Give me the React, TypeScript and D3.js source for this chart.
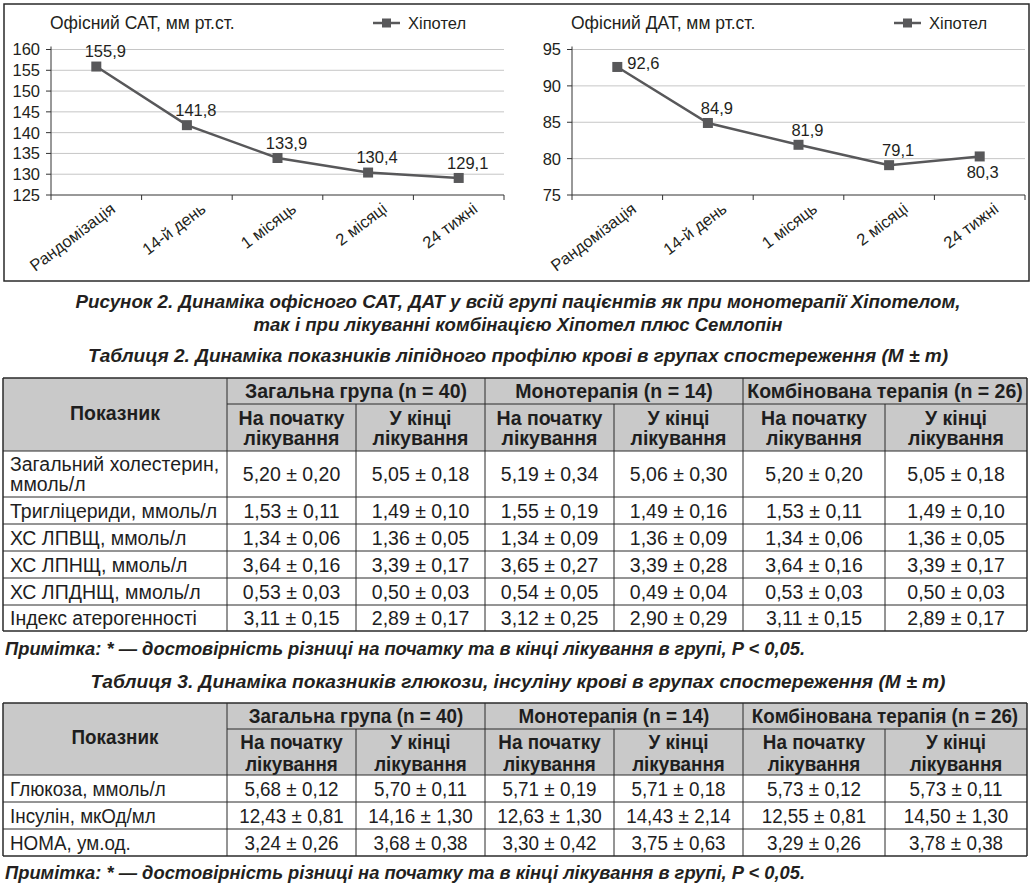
import * as d3 from 'd3'

// chart data
const timePoints = ['Рандомізація', '14-й день', '1 місяць', '2 місяці', '24 тижні']
const satValues = [155.9, 141.8, 133.9, 130.4, 129.1]
const datValues = [92.6, 84.9, 81.9, 79.1, 80.3]
const satTicks = [125, 130, 135, 140, 145, 150, 155, 160]
const datTicks = [75, 80, 85, 90, 95]
const seriesName = 'Хіпотел'
const satTitle = 'Офісний САТ, мм рт.ст.'
const datTitle = 'Офісний ДАТ, мм рт.ст.'

// table data
const groupNames = ['Загальна група (n = 40)', 'Монотерапія (n = 14)', 'Комбінована терапія (n = 26)']
const subColumns = [
  ['На початку', 'лікування'],
  ['У кінці', 'лікування'],
]
const indicatorHead = 'Показник'
const lipidLabels = [
  ['Загальний холестерин,', 'ммоль/л'],
  ['Тригліцериди, ммоль/л'],
  ['ХС ЛПВЩ, ммоль/л'],
  ['ХС ЛПНЩ, ммоль/л'],
  ['ХС ЛПДНЩ, ммоль/л'],
  ['Індекс атерогенності'],
]
const lipidMeans = [
  [5.2, 5.05, 5.19, 5.06, 5.2, 5.05],
  [1.53, 1.49, 1.55, 1.49, 1.53, 1.49],
  [1.34, 1.36, 1.34, 1.36, 1.34, 1.36],
  [3.64, 3.39, 3.65, 3.39, 3.64, 3.39],
  [0.53, 0.5, 0.54, 0.49, 0.53, 0.5],
  [3.11, 2.89, 3.12, 2.9, 3.11, 2.89],
]
const lipidErrors = [
  [0.2, 0.18, 0.34, 0.3, 0.2, 0.18],
  [0.11, 0.1, 0.19, 0.16, 0.11, 0.1],
  [0.06, 0.05, 0.09, 0.09, 0.06, 0.05],
  [0.16, 0.17, 0.27, 0.28, 0.16, 0.17],
  [0.03, 0.03, 0.05, 0.04, 0.03, 0.03],
  [0.15, 0.17, 0.25, 0.29, 0.15, 0.17],
]
const glucoseLabels = [['Глюкоза, ммоль/л'], ['Інсулін, мкОд/мл'], ['HOMA, ум.од.']]
const glucoseMeans = [
  [5.68, 5.7, 5.71, 5.71, 5.73, 5.73],
  [12.43, 14.16, 12.63, 14.43, 12.55, 14.5],
  [3.24, 3.68, 3.3, 3.75, 3.29, 3.78],
]
const glucoseErrors = [
  [0.12, 0.11, 0.19, 0.18, 0.12, 0.11],
  [0.81, 1.3, 1.3, 2.14, 0.81, 1.3],
  [0.26, 0.38, 0.42, 0.63, 0.26, 0.38],
]

const figureCaption = [
  'Рисунок 2.  Динаміка офісного САТ, ДАТ у всій групі пацієнтів як при монотерапії Хіпотелом,',
  'так і при лікуванні комбінацією Хіпотел плюс Семлопін',
]
const table2Caption = 'Таблиця 2.  Динаміка показників ліпідного профілю крові в групах спостереження (M ± m)'
const table3Caption = 'Таблиця 3.  Динаміка показників глюкози, інсуліну крові в групах спостереження (M ± m)'
const noteText = 'Примітка:  * — достовірність різниці на початку та в кінці лікування в групі, P < 0,05.'

const SANS = "'Liberation Sans', Arial, Helvetica, sans-serif"
const INK = '#231f20'
const SERIES = '#58585a'
const GRID = '#c6c6c6'
const HEAD_FILL = '#c9c9c9'

const fmt = (v: number) => d3.format('.2f')(v).replace('.', ',')

type Placement = 'above' | 'right' | 'below'

function LineChart({
  values,
  ticks,
  title,
  left,
  right,
  legendX,
  placements,
}: {
  values: number[]
  ticks: number[]
  title: string
  left: number
  right: number
  legendX: number
  placements: Placement[]
}) {
  const top = 49.5
  const bottom = 195
  const x = d3.scaleBand<string>().domain(timePoints).range([left, right])
  const y = d3.scaleLinear().domain(d3.extent(ticks) as [number, number]).range([bottom, top])
  const cx = (c: string) => (x(c) ?? 0) + x.bandwidth() / 2
  const line = d3
    .line<number>()
    .x((_, i) => cx(timePoints[i]))
    .y((d) => y(d))
  const edges = [...timePoints.map((c) => x(c) ?? 0), right]
  const fmt1 = (v: number) => d3.format('.1f')(v).replace('.', ',')

  return (
    <g fontFamily={SANS} fill={INK}>
      <text x={left - 1} y={29} fontSize={17.5}>
        {title}
      </text>
      <line x1={legendX} x2={legendX + 27} y1={23} y2={23} stroke={SERIES} strokeWidth={2.5} />
      <rect x={legendX + 9} y={18.5} width={9} height={9} fill={SERIES} />
      <text x={legendX + 35} y={29} fontSize={16.5}>
        {seriesName}
      </text>

      {ticks.slice(1).map((t) => (
        <line key={t} x1={left} x2={right} y1={y(t)} y2={y(t)} stroke={GRID} strokeWidth={1} />
      ))}
      <line x1={left} x2={left} y1={top - 3} y2={bottom} stroke="#333" strokeWidth={1} />
      {ticks.map((t) => (
        <g key={t}>
          <line x1={left - 5} x2={left} y1={y(t)} y2={y(t)} stroke="#333" />
          <text x={left - 11} y={y(t)} dy="0.36em" textAnchor="end" fontSize={16.5}>
            {t}
          </text>
        </g>
      ))}
      <line x1={left} x2={right} y1={bottom} y2={bottom} stroke="#333" strokeWidth={1} />
      {edges.map((e, i) => (
        <line key={i} x1={e} x2={e} y1={bottom} y2={bottom + 5} stroke="#333" />
      ))}
      {timePoints.map((c) => (
        <text
          key={c}
          transform={`translate(${cx(c) + 20},${bottom + 16}) rotate(-37)`}
          textAnchor="end"
          fontSize={16.5}
        >
          {c}
        </text>
      ))}

      <path d={line(values) ?? ''} fill="none" stroke={SERIES} strokeWidth={2.5} />
      {values.map((v, i) => (
        <rect key={i} x={cx(timePoints[i]) - 5} y={y(v) - 5} width={10} height={10} fill={SERIES} />
      ))}
      {values.map((v, i) => {
        const p = placements[i]
        const px = cx(timePoints[i])
        const py = y(v)
        if (p === 'right')
          return (
            <text key={i} x={px + 10} y={py - 4} dy="0.36em" fontSize={16.5}>
              {fmt1(v)}
            </text>
          )
        if (p === 'below')
          return (
            <text key={i} x={px + 3} y={py + 16} dy="0.36em" textAnchor="middle" fontSize={16.5}>
              {fmt1(v)}
            </text>
          )
        return (
          <text key={i} x={px + 9} y={py - 15} dy="0.36em" textAnchor="middle" fontSize={16.5}>
            {fmt1(v)}
          </text>
        )
      })}
    </g>
  )
}

const colX = [3, 227, 356, 485, 614, 743, 885, 1027]

// one or more lines of text, squeezed horizontally when the print uses a condensed face
function SText({
  x,
  y,
  sx,
  anchor = 'start',
  bold = false,
  size,
  lines,
  gap = 20,
}: {
  x: number
  y: number
  sx: number
  anchor?: string
  bold?: boolean
  size: number
  lines: string[]
  gap?: number
}) {
  const first = -((lines.length - 1) / 2) * gap
  return (
    <text
      transform={`translate(${x},${y}) scale(${sx},1)`}
      textAnchor={anchor}
      fontWeight={bold ? 'bold' : 'normal'}
      fontSize={size}
    >
      {lines.map((s, k) => (
        <tspan key={k} x={0} y={first + k * gap} dy="0.36em">
          {s}
        </tspan>
      ))}
    </text>
  )
}

function DataTable({
  rows,
  labels,
  means,
  errors,
  size,
  sx,
  lineGap,
}: {
  rows: number[]
  labels: string[][]
  means: number[][]
  errors: number[][]
  size: number
  sx: number
  lineGap: number
}) {
  const [t0, t1, t2] = rows
  const L = colX[0]
  const R = colX[colX.length - 1]
  const mid = (a: number, b: number) => (a + b) / 2
  return (
    <g fontFamily={SANS} fill="#1e1e1e">
      <rect x={L} y={t0} width={R - L} height={t2 - t0} fill={HEAD_FILL} />
      <SText x={mid(colX[0], colX[1])} y={mid(t0, t2) - 2} sx={sx} anchor="middle" bold size={size} lines={[indicatorHead]} />
      {groupNames.map((g, i) => (
        <SText key={g} x={mid(colX[1 + 2 * i], colX[3 + 2 * i])} y={mid(t0, t1)} sx={sx} anchor="middle" bold size={size} lines={[g]} />
      ))}
      {colX.slice(1, -1).map((c, j) => (
        <SText
          key={c}
          x={mid(c, colX[j + 2])}
          y={mid(t1, t2) + 0.5}
          sx={sx}
          anchor="middle"
          bold
          size={size}
          lines={subColumns[j % 2]}
          gap={lineGap}
        />
      ))}
      {labels.map((lab, r) => {
        const ym = mid(rows[r + 2], rows[r + 3])
        return (
          <g key={r}>
            <SText x={L + 7} y={ym} sx={sx} size={size} lines={lab} gap={lineGap} />
            {means[r].map((m, c) => (
              <SText
                key={c}
                x={mid(colX[c + 1], colX[c + 2])}
                y={ym}
                sx={sx}
                anchor="middle"
                size={size}
                lines={[`${fmt(m)} ± ${fmt(errors[r][c])}`]}
              />
            ))}
          </g>
        )
      })}
      <g stroke="#2a2a2a" strokeWidth={1}>
        <line x1={L} x2={R} y1={t0} y2={t0} strokeWidth={1.5} />
        <line x1={colX[1]} x2={R} y1={t1} y2={t1} />
        {rows.slice(2).map((r, i) => (
          <line key={i} x1={L} x2={R} y1={r} y2={r} strokeWidth={i === rows.length - 3 ? 1.5 : 1} />
        ))}
        {colX.map((c, i) => (
          <line
            key={c}
            x1={c}
            x2={c}
            y1={i % 2 === 0 && i > 1 && i < colX.length - 1 ? t1 : t0}
            y2={rows[rows.length - 1]}
            strokeWidth={i === 0 || i === colX.length - 1 ? 1.5 : 1}
          />
        ))}
      </g>
    </g>
  )
}

function Caption({ x, y, text, width, anchor = 'middle' }: { x: number; y: number; text: string; width: number; anchor?: string }) {
  return (
    <text
      x={x}
      y={y}
      textAnchor={anchor}
      fontFamily={SANS}
      fontWeight="bold"
      fontStyle="italic"
      fontSize={18}
      fill={INK}
      textLength={width}
      lengthAdjust="spacingAndGlyphs"
    >
      {text}
    </text>
  )
}

export default function App() {
  return (
    <div style={{ position: 'absolute', left: 0, top: 0 }}>
      <svg width={1036} height={888} style={{ display: 'block', background: '#fff' }}>
        <rect x={4} y={4} width={1025} height={277} fill="none" stroke="#2a2a2a" strokeWidth={1.5} />
        <LineChart
          values={satValues}
          ticks={satTicks}
          title={satTitle}
          left={51}
          right={504}
          legendX={373}
          placements={['above', 'above', 'above', 'above', 'above']}
        />
        <LineChart
          values={datValues}
          ticks={datTicks}
          title={datTitle}
          left={572}
          right={1025}
          legendX={894}
          placements={['right', 'above', 'above', 'above', 'below']}
        />

        <Caption x={518} y={308} text={figureCaption[0]} width={885} />
        <Caption x={518} y={331} text={figureCaption[1]} width={529} />
        <Caption x={518} y={362} text={table2Caption} width={860} />

        <DataTable
          rows={[378, 404, 451, 497, 524, 551, 578, 605, 631]}
          labels={lipidLabels}
          means={lipidMeans}
          errors={lipidErrors}
          size={19.5}
          sx={1}
          lineGap={20}
        />
        <Caption x={5} y={655} text={noteText} width={800} anchor="start" />
        <Caption x={518} y={688} text={table3Caption} width={855} />

        <DataTable
          rows={[703, 729, 775, 802, 829, 856]}
          labels={glucoseLabels}
          means={glucoseMeans}
          errors={glucoseErrors}
          size={20.5}
          sx={0.92}
          lineGap={21.5}
        />
        <Caption x={5} y={879} text={noteText} width={800} anchor="start" />
      </svg>
    </div>
  )
}
